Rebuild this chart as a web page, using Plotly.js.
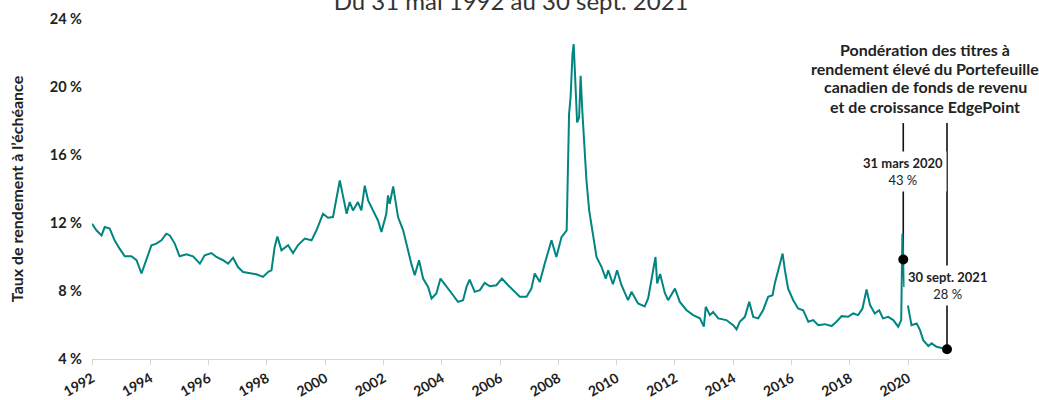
<!DOCTYPE html>
<html>
<head>
<meta charset="utf-8">
<script src="https://cdn.plot.ly/plotly-3.0.1.min.js"></script>
<style>
  html, body { margin: 0; padding: 0; background: #fff; }
  #chart { width: 1039px; height: 400px; }
</style>
</head>
<body>
<div id="chart"></div>
<script>
// ---- Data ----
const dates = [
  "1992-05-31","1992-07-25","1992-09-28","1992-11-06","1993-01-08","1993-03-10","1993-05-12","1993-07-15",
  "1993-10-06","1993-12-10","1994-02-10","1994-04-12","1994-06-15","1994-08-15","1994-10-18","1994-12-18",
  "1995-01-31","1995-04-03","1995-06-03","1995-08-28","1995-11-18","1996-02-12","1996-04-12","1996-07-06",
  "1996-09-06","1996-11-28","1997-01-31","1997-04-03","1997-06-03","1997-08-06","1997-10-28","1998-01-20",
  "1998-04-12","1998-06-15","1998-07-28","1998-09-06","1998-10-10","1998-11-30","1999-02-21","1999-04-24",
  "1999-06-24","1999-09-18","1999-12-12","2000-02-12","2000-05-03","2000-07-06","2000-09-06","2000-10-18",
  "2000-11-30","2001-01-12","2001-02-24","2001-04-03","2001-05-15","2001-07-15","2001-08-27","2001-10-09",
  "2001-11-20","2002-01-20","2002-03-24","2002-05-06","2002-07-06","2002-07-27","2002-08-18","2002-09-30",
  "2002-11-30","2003-02-02","2003-04-03","2003-05-15","2003-06-27","2003-08-20","2003-10-10","2003-12-12",
  "2004-01-24","2004-03-24","2004-05-15","2004-07-28","2004-10-20","2004-12-20","2005-02-22","2005-04-06",
  "2005-05-15","2005-07-18","2005-09-20","2005-11-20","2006-01-24","2006-04-15","2006-06-24","2006-09-09",
  "2006-11-12","2007-02-03","2007-04-28","2007-06-28","2007-08-09","2007-10-12","2007-12-12","2008-03-06",
  "2008-05-06","2008-07-09","2008-09-12","2008-09-30","2008-10-12","2008-10-31","2008-11-24","2008-12-09",
  "2009-01-06","2009-01-21","2009-02-15","2009-03-06","2009-03-27","2009-04-18","2009-05-18","2009-06-21",
  "2009-08-03","2009-09-21","2009-11-24","2010-01-15","2010-02-15","2010-04-15","2010-06-06","2010-07-31",
  "2010-10-21","2010-12-03","2011-02-24","2011-05-18","2011-06-30","2011-08-12","2011-09-30","2011-10-21",
  "2011-11-27","2012-01-24","2012-03-06","2012-05-31","2012-07-31","2012-10-24","2013-01-15","2013-04-09",
  "2013-05-28","2013-06-21","2013-08-12","2013-09-21","2013-11-24","2014-03-06","2014-05-31","2014-07-12",
  "2014-08-21","2014-10-24","2014-12-18","2015-02-06","2015-04-09","2015-06-09","2015-08-12","2015-10-06",
  "2015-11-03","2015-12-27","2016-02-09","2016-03-09","2016-04-18","2016-06-21","2016-08-21","2016-10-24",
  "2016-12-27","2017-02-27","2017-04-30","2017-07-21","2017-10-15","2017-12-15","2018-02-18","2018-05-09",
  "2018-07-12","2018-09-12","2018-11-06","2018-12-27","2019-02-09","2019-04-09","2019-06-03","2019-07-21",
  "2019-09-24","2019-11-27","2020-01-27","2020-03-05","2020-03-20","2020-03-31","2020-04-12","2020-04-28",
  "2020-05-31","2020-07-12","2020-09-15","2020-10-27","2020-12-06","2021-02-09","2021-03-21","2021-05-21",
  "2021-08-12","2021-09-30"
];
const yields = [
  11.96,11.57,11.27,11.76,11.67,10.98,10.49,10.04,
  10.04,9.81,9.03,9.90,10.69,10.79,10.98,11.37,
  11.27,10.79,10.04,10.16,10.04,9.61,10.10,10.23,
  10.00,9.81,9.61,9.96,9.41,9.12,9.06,8.98,
  8.83,9.12,9.22,10.59,11.21,10.39,10.69,10.23,
  10.69,11.08,10.98,11.57,12.54,12.31,12.35,13.52,
  14.50,13.52,12.54,13.23,12.74,13.23,12.74,14.20,
  13.33,12.74,12.15,11.47,12.54,13.62,13.13,14.15,
  12.35,11.57,10.39,9.61,8.93,9.81,8.73,8.24,
  7.56,7.85,8.73,8.24,7.75,7.36,7.46,8.24,
  8.67,7.95,8.05,8.48,8.28,8.34,8.73,8.34,
  8.05,7.66,7.66,8.14,9.03,8.53,9.61,10.98,
  10.00,11.17,11.57,15.48,18.41,19.38,21.93,22.52,
  19.38,17.92,18.21,20.66,18.60,16.84,14.50,12.74,
  11.37,10.00,9.41,8.73,9.22,8.40,9.22,8.34,
  7.46,7.95,7.27,7.09,7.56,8.63,10.00,8.44,
  9.00,7.90,7.46,8.14,7.36,6.87,6.58,6.39,
  5.90,7.07,6.58,6.77,6.39,6.29,5.99,5.74,
  6.19,6.48,7.36,6.48,6.39,6.87,7.66,7.75,
  8.44,9.41,10.20,9.22,8.14,7.46,6.97,6.87,
  6.19,6.29,5.99,6.05,5.94,6.19,6.52,6.48,
  6.68,6.58,6.97,8.09,7.17,6.68,6.87,6.39,
  6.48,6.29,5.90,6.29,11.37,9.85,8.24,8.53,
  7.07,5.99,6.09,5.70,5.11,4.76,4.92,4.72,
  4.63,4.57
];

const markerDates = ["2020-03-31", "2021-09-30"];
const markerValues = [9.85, 4.57];
const markerLabels = ["31 mars 2020", "30 sept. 2021"];
const markerWeights = ["43 %", "28 %"];

const tickYears = ["1992","1994","1996","1998","2000","2002","2004","2006","2008","2010","2012","2014","2016","2018","2020"];
const tickDates = tickYears.map(y => y + "-05-31");
const yTickValues = [4, 8, 12, 16, 20, 24];
const yTickLabels = yTickValues.map(v => v + " %");

const titleText = "Du 31 mai 1992 au 30 sept. 2021";
const yTitleText = "Taux de rendement à l’échéance";
const noteLines = [
  "Pondération des titres à",
  "rendement élevé du Portefeuille",
  "canadien de fonds de revenu",
  "et de croissance EdgePoint"
];

// ---- Figure ----
const FONT = "Lato, 'Open Sans', sans-serif";
const yMin = 4, yMax = 24;
const toPaper = v => (v - yMin) / (yMax - yMin);
const lineTop = 0.694;          // top of the vertical callout lines (paper)
const labelY = [0.552, 0.217];  // callout label centres (paper)
const noteY = [0.9115, 0.853, 0.800, 0.7415]; // note line centres (paper)

const traces = [
  {
    x: dates, y: yields, type: "scatter", mode: "lines",
    line: { color: "#008580", width: 2 },
    hoverinfo: "x+y", showlegend: false
  },
  {
    x: markerDates, y: markerValues, type: "scatter", mode: "markers",
    marker: { color: "#000", size: 10 },
    cliponaxis: false, showlegend: false
  }
];

const shapes = markerDates.map((d, i) => ({
  type: "line", xref: "x", yref: "paper",
  x0: d, x1: d, y0: lineTop, y1: toPaper(markerValues[i]),
  line: { color: "#111", width: 1.6 }, layer: "below"
}));

const annotations = noteLines.map((t, i) => ({
  xref: "paper", yref: "paper", x: 0.972, y: noteY[i],
  xanchor: "center", yanchor: "middle", showarrow: false,
  text: "<b>" + t + "</b>", align: "center",
  font: { family: FONT, size: 16, color: "#222" }
})).concat(markerDates.map((d, i) => ({
  xref: "x", yref: "paper", x: d, y: labelY[i],
  xanchor: "center", yanchor: "middle", showarrow: false,
  text: "<b>" + markerLabels[i] + "</b><br>" + markerWeights[i],
  align: "center", bgcolor: "#fff", borderpad: 3,
  font: { family: FONT, size: 13, color: "#222" }
})));

const layout = {
  width: 1039, height: 400,
  margin: { l: 92, r: 90, t: 19, b: 41, pad: 0 },
  paper_bgcolor: "#fff", plot_bgcolor: "#fff",
  font: { family: FONT, color: "#222" },
  title: {
    text: titleText, xref: "paper", x: 0.489, xanchor: "center",
    yref: "paper", y: 1.0176, yanchor: "bottom", pad: { t: 0, b: 0 },
    font: { family: FONT, size: 24, color: "#333" }
  },
  xaxis: {
    type: "date",
    range: ["1992-05-31", "2021-10-25"],
    tickmode: "array", tickvals: tickDates, ticktext: tickYears,
    tickangle: -30,
    tickfont: { family: FONT, size: 14, color: "#222", weight: "bold" },
    ticks: "outside", ticklen: 5, tickcolor: "#d6d6d6", tickwidth: 1,
    showline: true, linecolor: "#d6d6d6", linewidth: 1,
    showgrid: false, zeroline: false, fixedrange: true
  },
  yaxis: {
    range: [yMin, yMax],
    tickmode: "array", tickvals: yTickValues, ticktext: yTickLabels,
    tickfont: { family: FONT, size: 14.5, color: "#222", weight: "bold" },
    ticks: "", ticklabelstandoff: 9,
    showline: false, showgrid: false, zeroline: false, fixedrange: true,
    title: {
      text: yTitleText, standoff: 22,
      font: { family: FONT, size: 16, color: "#222", weight: "bold" }
    }
  },
  shapes: shapes,
  annotations: annotations,
  showlegend: false
};

Plotly.newPlot("chart", traces, layout, { displayModeBar: false, staticPlot: true });
</script>
</body>
</html>
